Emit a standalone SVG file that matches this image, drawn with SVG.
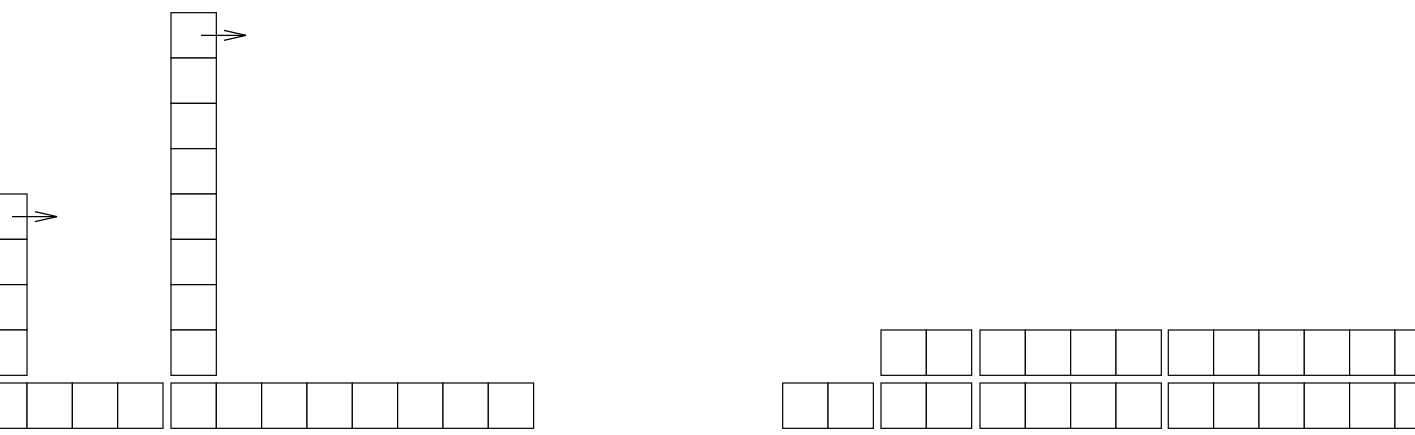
<svg xmlns="http://www.w3.org/2000/svg" width="1415" height="435" viewBox="0 0 1415 435">
<style>
.c{fill:#fff;stroke:#000;stroke-width:1.2}
.a{fill:none;stroke:#000;stroke-width:1.2}
</style>
<defs>
<marker id="arr" markerUnits="userSpaceOnUse" markerWidth="26" markerHeight="14" refX="23" refY="6" orient="auto">
<polyline points="1,1 23,6 1,11" fill="none" stroke="#000" stroke-width="1.2"/>
</marker>
<rect id="cell" class="c" width="45.33" height="45.33"/>
</defs>
<rect width="1415" height="435" fill="#fff"/>
<g id="left-column">
<use href="#cell" x="-18.3" y="194"/>
<use href="#cell" x="-18.3" y="239.33"/>
<use href="#cell" x="-18.3" y="284.66"/>
<use href="#cell" x="-18.3" y="330"/>
</g>
<g id="tall-column">
<use href="#cell" x="171" y="12.7"/>
<use href="#cell" x="171" y="58.03"/>
<use href="#cell" x="171" y="103.36"/>
<use href="#cell" x="171" y="148.69"/>
<use href="#cell" x="171" y="194.02"/>
<use href="#cell" x="171" y="239.35"/>
<use href="#cell" x="171" y="284.68"/>
<use href="#cell" x="171" y="330.01"/>
</g>
<g id="left-bottom-1">
<use href="#cell" x="-18.3" y="383"/>
<use href="#cell" x="27.03" y="383"/>
<use href="#cell" x="72.36" y="383"/>
<use href="#cell" x="117.69" y="383"/>
</g>
<g id="left-bottom-2">
<use href="#cell" x="171" y="383"/>
<use href="#cell" x="216.33" y="383"/>
<use href="#cell" x="261.66" y="383"/>
<use href="#cell" x="306.99" y="383"/>
<use href="#cell" x="352.32" y="383"/>
<use href="#cell" x="397.65" y="383"/>
<use href="#cell" x="442.98" y="383"/>
<use href="#cell" x="488.31" y="383"/>
</g>
<g id="right-bottom-a">
<use href="#cell" x="782.7" y="383"/>
<use href="#cell" x="828.03" y="383"/>
</g>
<g id="right-bottom-b">
<use href="#cell" x="881" y="383"/>
<use href="#cell" x="926.33" y="383"/>
</g>
<g id="right-bottom-c">
<use href="#cell" x="980" y="383"/>
<use href="#cell" x="1025.33" y="383"/>
<use href="#cell" x="1070.66" y="383"/>
<use href="#cell" x="1115.99" y="383"/>
</g>
<g id="right-bottom-d">
<use href="#cell" x="1168.3" y="383"/>
<use href="#cell" x="1213.63" y="383"/>
<use href="#cell" x="1258.96" y="383"/>
<use href="#cell" x="1304.29" y="383"/>
<use href="#cell" x="1349.62" y="383"/>
<use href="#cell" x="1394.95" y="383"/>
</g>
<g id="right-top-b">
<use href="#cell" x="881" y="330"/>
<use href="#cell" x="926.33" y="330"/>
</g>
<g id="right-top-c">
<use href="#cell" x="980" y="330"/>
<use href="#cell" x="1025.33" y="330"/>
<use href="#cell" x="1070.66" y="330"/>
<use href="#cell" x="1115.99" y="330"/>
</g>
<g id="right-top-d">
<use href="#cell" x="1168.3" y="330"/>
<use href="#cell" x="1213.63" y="330"/>
<use href="#cell" x="1258.96" y="330"/>
<use href="#cell" x="1304.29" y="330"/>
<use href="#cell" x="1349.62" y="330"/>
<use href="#cell" x="1394.95" y="330"/>
</g>
<g id="connectors">
<line class="a" x1="12" y1="216.7" x2="57" y2="216.7" marker-end="url(#arr)"/>
<line class="a" x1="201" y1="35.3" x2="246" y2="35.3" marker-end="url(#arr)"/>
</g>
</svg>
